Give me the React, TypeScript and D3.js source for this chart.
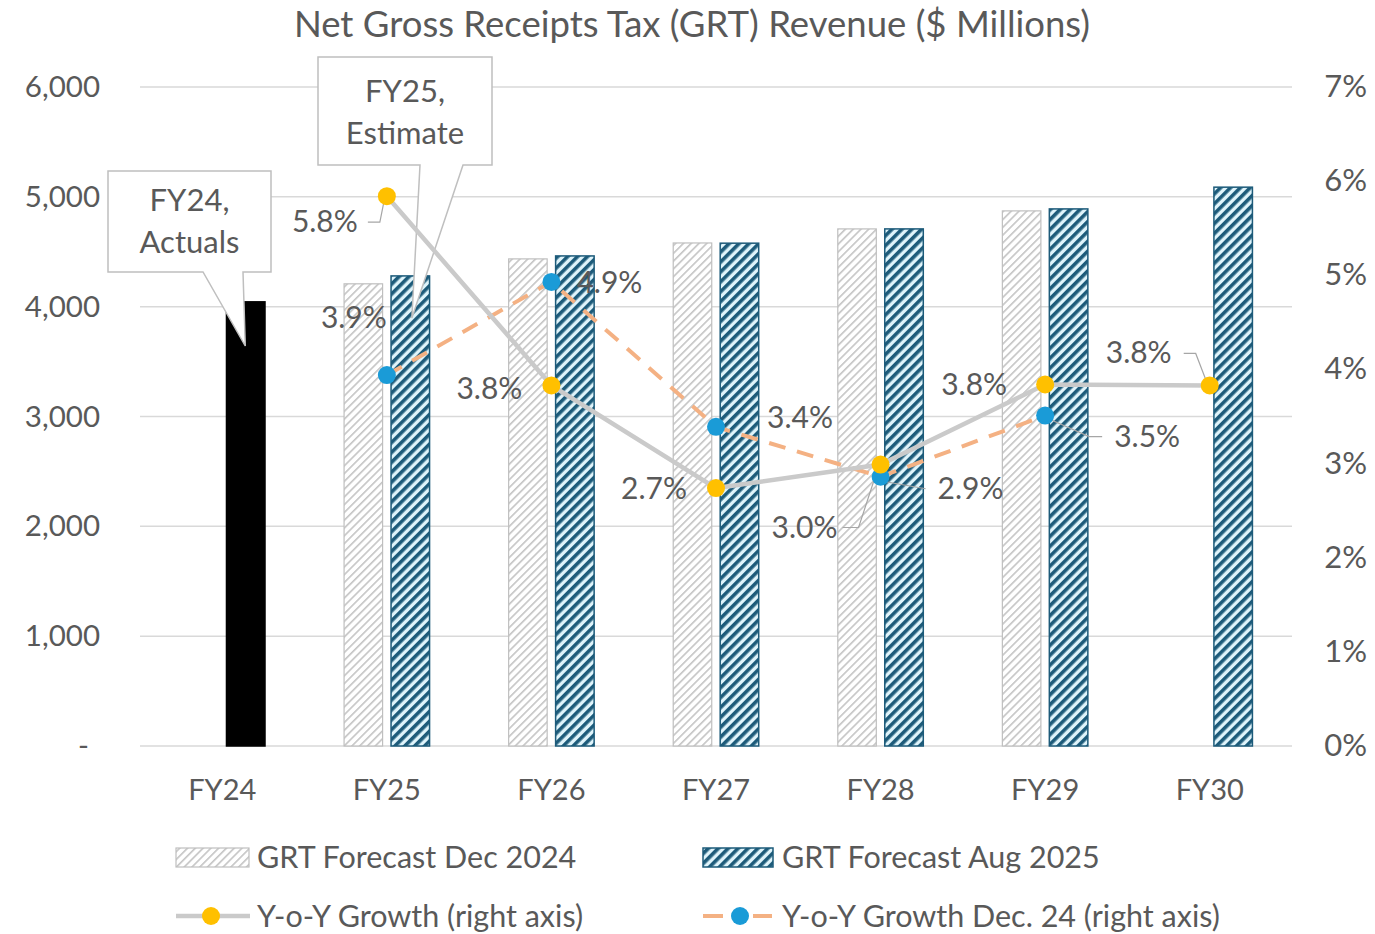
import React, { useEffect } from "react";
import * as d3 from "d3";

const categories = ["FY24", "FY25", "FY26", "FY27", "FY28", "FY29", "FY30"];
const forecastDec2024: (number | null)[] = [null, 4208, 4435, 4580, 4708, 4872, null];
const forecastAug2025: (number | null)[] = [4044, 4280, 4462, 4578, 4708, 4890, 5088];
const growthAug: (number | null)[] = [null, 5.84, 3.83, 2.74, 2.99, 3.84, 3.83];
const growthDec: (number | null)[] = [null, 3.94, 4.93, 3.39, 2.86, 3.51, null];
const leftTicks = [0, 1000, 2000, 3000, 4000, 5000, 6000];
const rightTicks = [0, 1, 2, 3, 4, 5, 6, 7];
const title = "Net Gross Receipts Tax (GRT) Revenue ($ Millions)";
const legendLabels = [
  "GRT Forecast Dec 2024",
  "GRT Forecast Aug 2025",
  "Y-o-Y Growth (right axis)",
  "Y-o-Y Growth Dec. 24 (right axis)",
];

// label placement (layout only): offset from marker, optional leader
const growthAugLabelPos: ({ dx: number; dy: number; leader?: [number, number][] } | null)[] = [
  null,
  { dx: -62, dy: 26, leader: [[-19, 26], [-7, 26], [-3, 6]] },
  { dx: -62, dy: 4 },
  { dx: -62, dy: 1 },
  { dx: -76, dy: 63, leader: [[-38, 63], [-22, 63], [-4, 8]] },
  { dx: -71, dy: 1 },
  { dx: -71, dy: -32, leader: [[-26, -32], [-14, -32], [-4, -6]] },
];
const growthDecLabelPos: ({ dx: number; dy: number; leader?: [number, number][] } | null)[] = [
  null,
  { dx: -33, dy: -57 },
  { dx: 58, dy: 1 },
  { dx: 84, dy: -9 },
  { dx: 90, dy: 12, leader: [[5, 5], [45, 12]] },
  { dx: 102, dy: 21, leader: [[5, 4], [44, 21], [57, 21]] },
];

const W = 1375;
const H = 934;
const FONT = "Lato, 'Open Sans', sans-serif";
const TXT = "#595959";

export default function App() {
  useEffect(() => {
    document.body.style.margin = "0";
  }, []);

  const x = d3.scaleBand<string>().domain(categories).range([140, 1292]);
  const bw = x.bandwidth();
  const x1 = d3
    .scaleBand<string>()
    .domain(["dec", "aug"])
    .range([39.5, 125])
    .paddingInner(0.18);
  const yL = d3.scaleLinear().domain([0, 6000]).range([746, 87]);
  const yR = d3.scaleLinear().domain([0, 7]).range([746, 87]);
  const cx = (c: string) => (x(c) as number) + bw / 2;

  const lineGen = d3
    .line<[string, number | null]>()
    .defined((d) => d[1] != null)
    .x((d) => cx(d[0]))
    .y((d) => yR(d[1] as number));

  const augPts = categories.map((c, i) => [c, growthAug[i]] as [string, number | null]);
  const decPts = categories.map((c, i) => [c, growthDec[i]] as [string, number | null]);

  const fmt = (v: number) => v.toFixed(1) + "%";

  const fy24x = cx("FY24");
  const fy25x = cx("FY25");
  const callout24 = {
    x0: 108, y0: 171, x1: 271, y1: 272,
    w0: 203, w1: 243, tip: [fy24x + 23, 346] as [number, number],
  };
  const callout25 = {
    x0: 318, y0: 57, x1: 492, y1: 165,
    w0: 420, w1: 463, tip: [fy25x + 25, 318] as [number, number],
  };
  const calloutPath = (c: typeof callout24) =>
    `M${c.x0},${c.y0}H${c.x1}V${c.y1}H${c.w1}L${c.tip[0]},${c.tip[1]}L${c.w0},${c.y1}H${c.x0}Z`;

  const LBL = 30;

  return (
    <svg width={W} height={H} style={{ display: "block", background: "#fff" }} fontFamily={FONT}>
      <defs>
        <pattern id="hatchGray" width="5.5" height="5.5" patternUnits="userSpaceOnUse" patternTransform="rotate(45)">
          <rect width="5.5" height="5.5" fill="#fff" />
          <rect width="1.6" height="5.5" fill="#c4c4c4" />
        </pattern>
        <pattern id="hatchBlue" width="7" height="7" patternUnits="userSpaceOnUse" patternTransform="rotate(45)">
          <rect width="7" height="7" fill="#dff4fb" />
          <rect width="3.6" height="7" fill="#1d5b7a" />
        </pattern>
      </defs>

      <text x={692} y={37} textAnchor="middle" fontSize={36.5} fill={TXT}>
        {title}
      </text>

      {leftTicks.map((t) => (
        <line key={t} x1={140} x2={1292} y1={yL(t)} y2={yL(t)} stroke="#d9d9d9" strokeWidth={1.5} />
      ))}

      {leftTicks.map((t) => (
        <text key={t} x={t === 0 ? 89 : 100} y={yL(t) + 10} textAnchor="end" fontSize={29.5} fill={TXT}>
          {t === 0 ? "-" : d3.format(",")(t)}
        </text>
      ))}
      {rightTicks.map((t) => (
        <text key={t} x={1367} y={yR(t) + 10} textAnchor="end" fontSize={31} fill={TXT}>
          {t + "%"}
        </text>
      ))}
      {categories.map((c) => (
        <text key={c} x={cx(c)} y={800} textAnchor="middle" fontSize={29} fill={TXT}>
          {c}
        </text>
      ))}

      {categories.map((c, i) => {
        const v = forecastDec2024[i];
        if (v == null) return null;
        const bx = (x(c) as number) + (x1("dec") as number);
        return (
          <rect key={"d" + c} x={bx} y={yL(v)} width={x1.bandwidth()} height={yL(0) - yL(v)}
            fill="url(#hatchGray)" stroke="#bfbfbf" strokeWidth={1.2} />
        );
      })}
      {categories.map((c, i) => {
        const v = forecastAug2025[i];
        if (v == null) return null;
        const bx = (x(c) as number) + (x1("aug") as number);
        const actual = c === "FY24";
        return (
          <rect key={"a" + c} x={bx} y={yL(v)} width={x1.bandwidth()} height={yL(0) - yL(v)}
            fill={actual ? "#000" : "url(#hatchBlue)"} stroke={actual ? "#000" : "#1d5b7a"} strokeWidth={1.5} />
        );
      })}

      {[callout24, callout25].map((c, i) => (
        <path key={i} d={calloutPath(c)} fill="#fff" stroke="#bfbfbf" strokeWidth={1.5} />
      ))}
      <text x={(callout24.x0 + callout24.x1) / 2} y={211} textAnchor="middle" fontSize={31} fill={TXT}>FY24,</text>
      <text x={(callout24.x0 + callout24.x1) / 2} y={253} textAnchor="middle" fontSize={31} fill={TXT}>Actuals</text>
      <text x={(callout25.x0 + callout25.x1) / 2} y={102} textAnchor="middle" fontSize={31} fill={TXT}>FY25,</text>
      <text x={(callout25.x0 + callout25.x1) / 2} y={144} textAnchor="middle" fontSize={31} fill={TXT}>Estimate</text>

      <path d={lineGen(decPts) || ""} fill="none" stroke="#f4b183" strokeWidth={4} strokeDasharray="17,12" />
      <path d={lineGen(augPts) || ""} fill="none" stroke="#cacaca" strokeWidth={4.5} />

      {augPts.map(([c, v], i) => {
        const p = growthAugLabelPos[i];
        if (v == null || !p || !p.leader) return null;
        const mx = cx(c), my = yR(v);
        return (
          <polyline key={"la" + c} points={p.leader.map(([a, b]) => `${mx + a},${my + b}`).join(" ")}
            fill="none" stroke="#a6a6a6" strokeWidth={1.2} />
        );
      })}
      {decPts.map(([c, v], i) => {
        const p = growthDecLabelPos[i];
        if (v == null || !p || !p.leader) return null;
        const mx = cx(c), my = yR(v);
        return (
          <polyline key={"ld" + c} points={p.leader.map(([a, b]) => `${mx + a},${my + b}`).join(" ")}
            fill="none" stroke="#a6a6a6" strokeWidth={1.2} />
        );
      })}

      {decPts.map(([c, v]) =>
        v == null ? null : <circle key={"md" + c} cx={cx(c)} cy={yR(v)} r={9} fill="#1a9bd7" />
      )}
      {augPts.map(([c, v]) =>
        v == null ? null : <circle key={"ma" + c} cx={cx(c)} cy={yR(v)} r={9} fill="#ffc000" />
      )}

      {augPts.map(([c, v], i) => {
        const p = growthAugLabelPos[i];
        if (v == null || !p) return null;
        return (
          <text key={"ta" + c} x={cx(c) + p.dx} y={yR(v) + p.dy + 10} textAnchor="middle" fontSize={LBL} fill={TXT}>
            {fmt(v)}
          </text>
        );
      })}
      {decPts.map(([c, v], i) => {
        const p = growthDecLabelPos[i];
        if (v == null || !p) return null;
        return (
          <text key={"td" + c} x={cx(c) + p.dx} y={yR(v) + p.dy + 10} textAnchor="middle" fontSize={LBL} fill={TXT}>
            {fmt(v)}
          </text>
        );
      })}

      <g>
        <rect x={176} y={848} width={73} height={19} fill="url(#hatchGray)" stroke="#bfbfbf" strokeWidth={1.2} />
        <text x={257} y={868} fontSize={30.5} fill={TXT}>{legendLabels[0]}</text>
        <rect x={703} y={848} width={70} height={19} fill="url(#hatchBlue)" stroke="#1d5b7a" strokeWidth={1.5} />
        <text x={782} y={868} fontSize={30.5} fill={TXT}>{legendLabels[1]}</text>
        <line x1={176} x2={250} y1={916} y2={916} stroke="#cacaca" strokeWidth={4.5} />
        <circle cx={211} cy={916} r={9} fill="#ffc000" />
        <text x={257} y={927} fontSize={30.5} fill={TXT}>{legendLabels[2]}</text>
        <line x1={703} x2={772} y1={916} y2={916} stroke="#f4b183" strokeWidth={4} strokeDasharray="20,30" />
        <circle cx={740} cy={916} r={9} fill="#1a9bd7" />
        <text x={782} y={927} fontSize={30.5} fill={TXT}>{legendLabels[3]}</text>
      </g>
    </svg>
  );
}
